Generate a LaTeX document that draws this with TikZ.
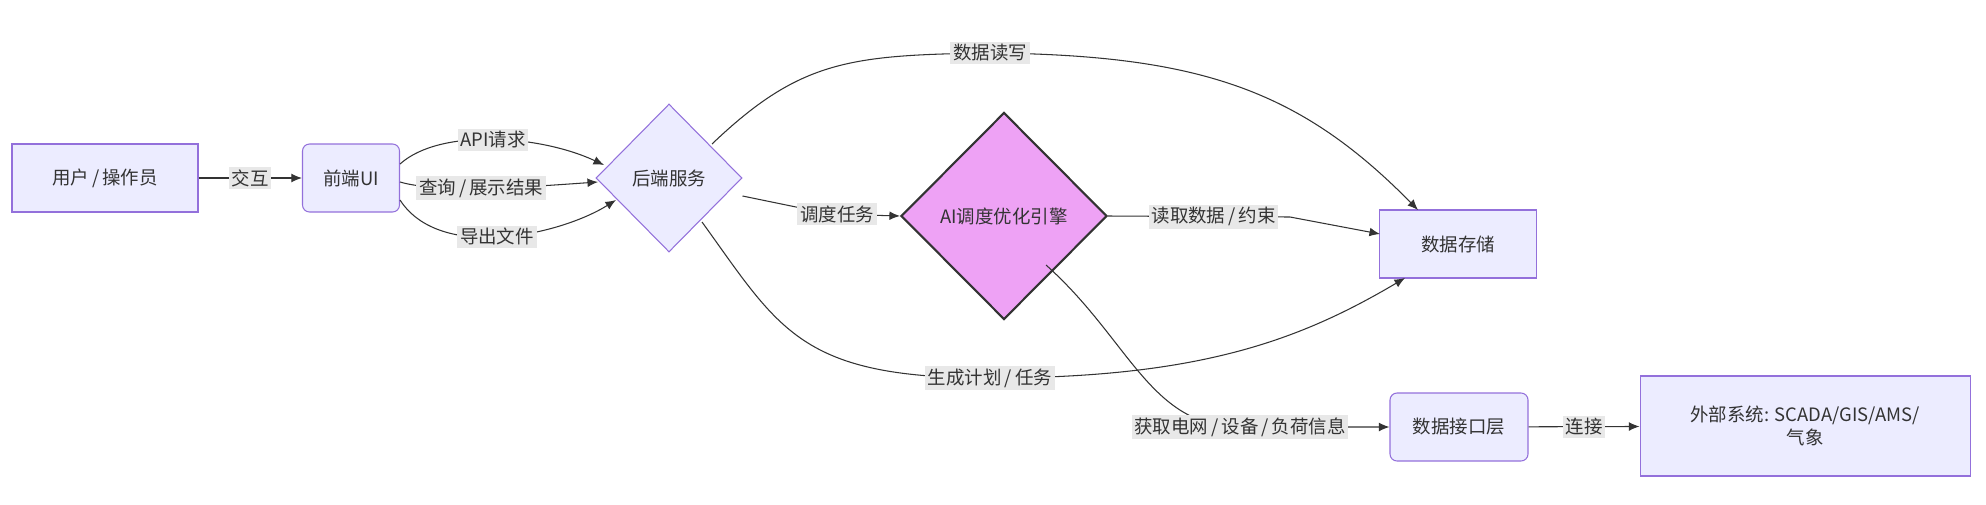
\documentclass[tikz,border=0pt]{standalone}
\usepackage{fontspec}
\setmainfont{Noto Sans CJK SC}
\usetikzlibrary{shapes.geometric,arrows.meta}
\definecolor{nfill}{HTML}{ECECFF}
\definecolor{nline}{HTML}{9370DB}
\definecolor{lbg}{HTML}{E8E8E8}
\definecolor{ln}{HTML}{333333}
\definecolor{aifill}{HTML}{EEA2F5}
\begin{document}
\begin{tikzpicture}[x=0.02cm,y=-0.02cm,
  every node/.style={font=\fontsize{10.5}{13.5}\selectfont, text=ln},
  box/.style={draw=nline, fill=nfill, line width=0.6pt, minimum height=68*0.02cm, inner sep=0pt},
  rbox/.style={box, rounded corners=4pt},
  dia/.style={diamond, draw=nline, fill=nfill, line width=0.6pt, inner sep=0pt, aspect=1},
  lab/.style={fill=lbg, inner sep=1.5pt},
  arr/.style={draw=ln, line width=0.6pt, -{Latex[length=6pt,width=5pt]}}]
\useasboundingbox (0,0) rectangle (1986,504);
\node[box, minimum width=186*0.02cm] (u) at (105,178) {用户\,/\,操作员};
\node[rbox, minimum width=97*0.02cm] (f) at (351,178) {前端UI};
\node[dia, minimum width=146*0.02cm, minimum height=148*0.02cm] (b) at (669,178) {后端服务};
\node[diamond, draw=ln, fill=aifill, line width=1.2pt, inner sep=0pt, minimum width=206*0.02cm, minimum height=207*0.02cm] (ai) at (1004,216) {AI调度优化引擎};
\node[box, minimum width=157*0.02cm] (s) at (1458,244) {数据存储};
\node[rbox, minimum width=138*0.02cm] (di) at (1459,427) {数据接口层};
\node[box, minimum width=330*0.02cm, minimum height=100*0.02cm, align=center] (ext) at (1805,426) {外部系统: SCADA/GIS/AMS/\\气象};

\draw[arr] (u) -- node[lab]{交互} (f);
\draw[arr] (f.east |- 0,164) .. controls (440,128) and (540,135) .. (604,165) node[pos=0.5,lab]{API请求};
\draw[arr] (f.east |- 0,182) .. controls (440,194) and (540,186) .. (598,182) node[pos=0.45,lab]{查询\,/\,展示结果};
\draw[arr] (f.east |- 0,200) .. controls (440,262) and (560,235) .. (616,200) node[pos=0.48,lab]{导出文件};
\draw[arr] (b.east |- 0,196) -- (830,214) -- node[lab,pos=0.1]{调度任务} (ai.west);
\draw[arr] (712,144) .. controls (800,60) and (850,55) .. (990,53) node[lab]{数据读写} .. controls (1200,55) and (1300,90) .. (1418,210);
\draw[arr] (ai.east) -- (1290,217) node[lab,pos=0.58]{读取数据\,/\,约束} -- (1380,234);
\draw[arr] (702,222) .. controls (780,330) and (800,378) .. (990,378) node[lab]{生成计划\,/\,任务} .. controls (1200,378) and (1300,340) .. (1405,278);
\draw[arr] (1046,265) .. controls (1130,340) and (1150,427) .. (1240,427) node[lab]{获取电网\,/\,设备\,/\,负荷信息} -- (di.west);
\draw[arr] (di) -- node[lab]{连接} (ext);
\end{tikzpicture}
\end{document}
